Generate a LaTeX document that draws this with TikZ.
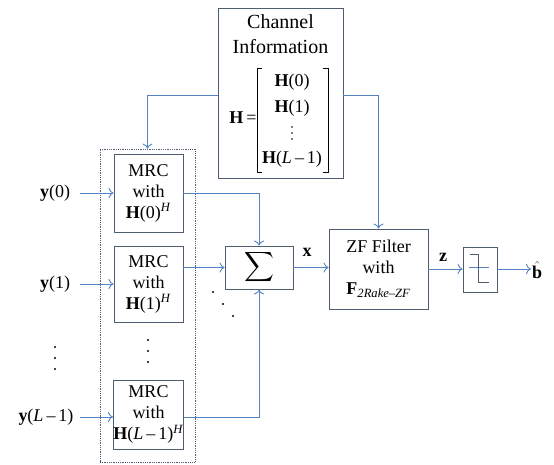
\documentclass[tikz,border=0pt]{standalone}
\usepackage{amsmath}
\usepackage{fontspec}
\setmainfont{Liberation Serif}
\usetikzlibrary{arrows.meta}
\definecolor{conn}{RGB}{84,130,195}
\definecolor{bord}{RGB}{78,94,112}
\newcommand{\fsz}{\fontsize{18}{21}\selectfont}
\newcommand{\fbig}{\fontsize{20}{24}\selectfont}
\newcommand{\mn}{\,\textendash\,}
\begin{document}
\begin{tikzpicture}[x=1pt,y=-1pt,
  box/.style={draw=bord,line width=0.9pt,inner sep=0pt,align=center,font=\fsz},
  arr/.style={draw=conn,line width=0.9pt,-{To[length=5pt,width=10pt]}},
  lbl/.style={font=\fsz,inner sep=1pt},
  dotc/.style={fill=black,circle,inner sep=0pt,minimum size=2.4pt},
  sdot/.style={fill=black,circle,inner sep=0pt,minimum size=1.6pt}]
\useasboundingbox (0,0) rectangle (554,465);
% channel information
\node[box,minimum width=125pt,minimum height=170pt] (chan) at (280.5,93) {};
\node[lbl,font=\fbig] (t1) at (280.5,22) {Channel};
\node[lbl,font=\fbig] (t2) at (280.5,47) {Information};
\node[lbl] (heq) at (243,118) {\textbf{H}\,=};
\node[lbl] (r0) at (292,82) {\textbf{H}(0)};
\node[lbl] (r1) at (292,108) {\textbf{H}(1)};
\node[sdot] at (292,127) {};
\node[sdot] at (292,133) {};
\node[sdot] at (292,139) {};
\node[lbl] (r3) at (292,159) {\textbf{H}(\textit{L}\mn 1)};
\draw[line width=0.8pt] (262,68) -- (257,68) -- (257,172) -- (262,172);
\draw[line width=0.8pt] (323,68) -- (328,68) -- (328,172) -- (323,172);
% MRC bank
\node[draw=bord,densely dotted,line width=0.8pt,minimum width=95pt,minimum height=313pt,inner sep=0pt] (bank) at (147.5,305.5) {};
\node[box,minimum width=69pt,minimum height=78pt] (m1) at (148.5,193) {MRC\\with\\\textbf{H}(0)\textsuperscript{\textit{H}}};
\node[box,minimum width=69pt,minimum height=76pt] (m2) at (148.5,284) {MRC\\with\\\textbf{H}(1)\textsuperscript{\textit{H}}};
\node[box,minimum width=69pt,minimum height=69pt] (m3) at (148.5,414.5) {MRC\\with\\\textbf{H}(\textit{L}\mn 1)\textsuperscript{\textit{H}}};
% sum, ZF, decision
\node[box,minimum width=68pt,minimum height=43pt] (sum) at (259,267.5) {\fontsize{20}{24}\selectfont$\displaystyle\sum$};
\node[box,minimum width=99pt,minimum height=80pt] (zf) at (378.5,269) {ZF Filter\\with\\\textbf{F}\textsubscript{\textit{2Rake\textendash ZF}}};
\node[box,minimum width=34pt,minimum height=45pt] (dec) at (480,269.5) {};
\draw[draw=conn,line width=0.7pt] (469,267) -- (489,267);
\draw[draw=bord,line width=0.9pt] (470,254) -- (478,254) -- (478,282) -- (489,282);
% labels
\node[lbl] (y0) at (55,193) {\textbf{y}(0)};
\node[lbl] (y1) at (55,284) {\textbf{y}(1)};
\node[lbl] (yl) at (46,417) {\textbf{y}(\textit{L}\mn 1)};
\node[lbl] (xl) at (307,252) {\textbf{x}};
\node[lbl] (zl) at (443,257) {\textbf{z}};
\node[lbl,anchor=west] (bh) at (531,270) {$\hat{\text{\textbf{b}}}$};
\coordinate (i0) at (80,193);
\coordinate (i1) at (80,284);
\coordinate (il) at (80,417);
% dots
\foreach \yy in {347,358,369} \node[dotc] at (55,\yy) {};
\foreach \yy in {340,351,362} \node[dotc] at (148,\yy) {};
\node[dotc] at (213,292) {};
\node[dotc] at (223,304) {};
\node[dotc] at (233,316) {};
% connectors
\draw[arr] (chan.west |- 0,95) -| (bank.north);
\draw[arr] (chan.east |- 0,95) -| (zf.north);
\draw[arr] (i0) -- (m1.west);
\draw[arr] (i1) -- (m2.west);
\draw[arr] (il) -- (m3.west |- il);
\draw[arr] (m1.east) -| (sum.north);
\draw[arr] (m2.east |- sum.west) -- (sum.west);
\draw[arr] (m3.east |- il) -| (sum.south);
\draw[arr] (sum.east) -- (zf.west |- sum.east);
\draw[arr] (zf.east) -- (dec.west |- zf.east);
\draw[arr] (dec.east |- zf.east) -- (bh.west |- zf.east);
\end{tikzpicture}
\end{document}
